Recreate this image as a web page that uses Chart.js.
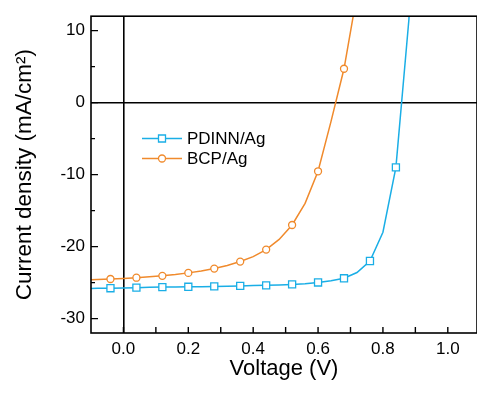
<!DOCTYPE html>
<html>
<head>
<meta charset="utf-8">
<style>
  html, body { margin: 0; padding: 0; background: #fff; }
  #wrap { width: 477px; height: 395px; }
</style>
<script src="https://cdn.jsdelivr.net/npm/chart.js@4/dist/chart.umd.min.js"></script>
</head>
<body>
<div id="wrap"><canvas id="jv" width="477" height="395"></canvas></div>
<script>
(function () {
    'use strict';

    // J-V data (V, mA/cm2), sampled every 0.04 V; markers on every other point
    const voltage = [-0.12, -0.08, -0.04, 0.00, 0.04, 0.08, 0.12, 0.16, 0.20, 0.24, 0.28, 0.32, 0.36,
        0.40, 0.44, 0.48, 0.52, 0.56, 0.60, 0.64, 0.68, 0.72, 0.76, 0.80, 0.84, 0.88, 0.92];
    const pdinnJ = [-25.85, -25.8, -25.78, -25.75, -25.7, -25.66, -25.62, -25.6, -25.58, -25.56, -25.53,
        -25.5, -25.46, -25.42, -25.38, -25.32, -25.25, -25.15, -24.98, -24.75, -24.4, -23.6, -22.0,
        -18.0, -9.0, 11.5, 45.0];
    const bcpJ = [-24.62, -24.56, -24.5, -24.42, -24.32, -24.2, -24.06, -23.88, -23.65, -23.38, -23.05,
        -22.62, -22.08, -21.4, -20.42, -19.0, -17.0, -14.0, -9.54, -2.6, 4.7, 15.0];
    const seriesNames = ['PDINN/Ag', 'BCP/Ag'];
    const yTicks = [-30, -20, -10, 0, 10];
    const xTickLabels = [0.0, 0.2, 0.4, 0.6, 0.8, 1.0];

    const blue = '#1aaee6';
    const orange = '#f08a2c';
    const font = "'Liberation Sans', Arial, sans-serif";

    function points(ys) {
        return ys.map((y, i) => ({ x: voltage[i], y: y }));
    }
    function markerRadius(ys, r) {
        return ys.map((y, i) => (i >= 2 && i <= 24 && i % 2 === 0 ? r : 0));
    }

    // frame, inward ticks and the legend
    const decor = {
        id: 'decor',
        afterDatasetsDraw(chart) {
            const ctx = chart.ctx;
            const a = chart.chartArea;
            const xs = chart.scales.x;
            const ys = chart.scales.y;
            ctx.save();
            ctx.strokeStyle = '#000';
            ctx.lineWidth = 1.6;
            ctx.strokeRect(a.left, a.top, a.right - a.left, a.bottom - a.top);

            ctx.lineWidth = 1.4;
            ctx.beginPath();
            for (let v = -30; v <= 10; v += 5) {
                const py = ys.getPixelForValue(v);
                const len = v % 10 === 0 ? 7 : 4;
                ctx.moveTo(a.left, py);
                ctx.lineTo(a.left + len, py);
            }
            for (let k = 0; k <= 10; k++) {
                const px = xs.getPixelForValue(k / 10);
                ctx.moveTo(px, a.bottom);
                ctx.lineTo(px, a.bottom - 6);
            }
            ctx.stroke();

            // legend
            chart.data.datasets.forEach((ds, i) => {
                const y = 138.5 + i * 20;
                const x0 = a.left + 51;
                ctx.strokeStyle = ds.borderColor;
                ctx.lineWidth = 1.5;
                ctx.beginPath();
                ctx.moveTo(x0, y);
                ctx.lineTo(x0 + 40, y);
                ctx.stroke();
                ctx.fillStyle = '#fff';
                ctx.lineWidth = 1.3;
                ctx.beginPath();
                if (ds.pointStyle === 'rect') {
                    ctx.rect(x0 + 20 - 3.5, y - 3.5, 7, 7);
                } else {
                    ctx.arc(x0 + 20, y, 3.5, 0, Math.PI * 2);
                }
                ctx.fill();
                ctx.stroke();
                ctx.fillStyle = '#000';
                ctx.font = '17px ' + font;
                ctx.textAlign = 'left';
                ctx.textBaseline = 'middle';
                ctx.fillText(ds.label, x0 + 45, y + 1);
            });
            ctx.restore();
        },
    };

    new Chart(document.getElementById('jv'), {
        type: 'line',
        data: {
            datasets: [
                {
                    label: seriesNames[0],
                    data: points(pdinnJ),
                    borderColor: blue,
                    borderWidth: 1.5,
                    pointStyle: 'rect',
                    pointRadius: markerRadius(pdinnJ, 5),
                    pointBackgroundColor: '#fff',
                    pointBorderColor: blue,
                    pointBorderWidth: 1.3,
                    tension: 0,
                },
                {
                    label: seriesNames[1],
                    data: points(bcpJ),
                    borderColor: orange,
                    borderWidth: 1.5,
                    pointStyle: 'circle',
                    pointRadius: markerRadius(bcpJ, 3.5),
                    pointBackgroundColor: '#fff',
                    pointBorderColor: orange,
                    pointBorderWidth: 1.3,
                    tension: 0,
                },
            ],
        },
        options: {
            responsive: false,
            animation: false,
            layout: { padding: { top: 14, left: 0, right: 0, bottom: 0 } },
            plugins: { legend: { display: false }, tooltip: { enabled: false } },
            scales: {
                x: {
                    type: 'linear',
                    min: -0.1,
                    max: 1.09,
                    afterFit: (s) => { s.height = 62; },
                    border: { display: false },
                    grid: {
                        drawTicks: false,
                        lineWidth: 1.6,
                        color: (c) => (c.tick && Math.abs(c.tick.value) < 1e-9 ? '#000' : 'rgba(0,0,0,0)'),
                    },
                    ticks: {
                        stepSize: 0.1,
                        includeBounds: false,
                        autoSkip: false,
                        maxRotation: 0,
                        padding: 6,
                        color: '#000',
                        font: { family: font, size: 17 },
                        callback: (v) => {
                            const hit = xTickLabels.find((t) => Math.abs(t - v) < 1e-6);
                            return hit === undefined ? '' : hit.toFixed(1);
                        },
                    },
                    title: {
                        display: true,
                        text: 'Voltage (V)',
                        color: '#000',
                        font: { family: font, size: 22 },
                        padding: { top: 0, bottom: 13 },
                    },
                },
                y: {
                    min: -32,
                    max: 12,
                    afterFit: (s) => { s.width = 91; },
                    border: { display: false },
                    grid: {
                        drawTicks: false,
                        lineWidth: 1.6,
                        color: (c) => (c.tick && c.tick.value === 0 ? '#000' : 'rgba(0,0,0,0)'),
                    },
                    ticks: {
                        stepSize: 10,
                        includeBounds: false,
                        autoSkip: false,
                        padding: 6,
                        color: '#000',
                        font: { family: font, size: 17 },
                        callback: (v) => (yTicks.includes(v) ? String(v) : ''),
                    },
                    title: {
                        display: true,
                        text: 'Current density (mA/cm²)',
                        color: '#000',
                        font: { family: font, size: 22.5 },
                        padding: { top: 11, bottom: 0 },
                    },
                },
            },
        },
        plugins: [decor],
    });
})();
</script>
</body>
</html>
